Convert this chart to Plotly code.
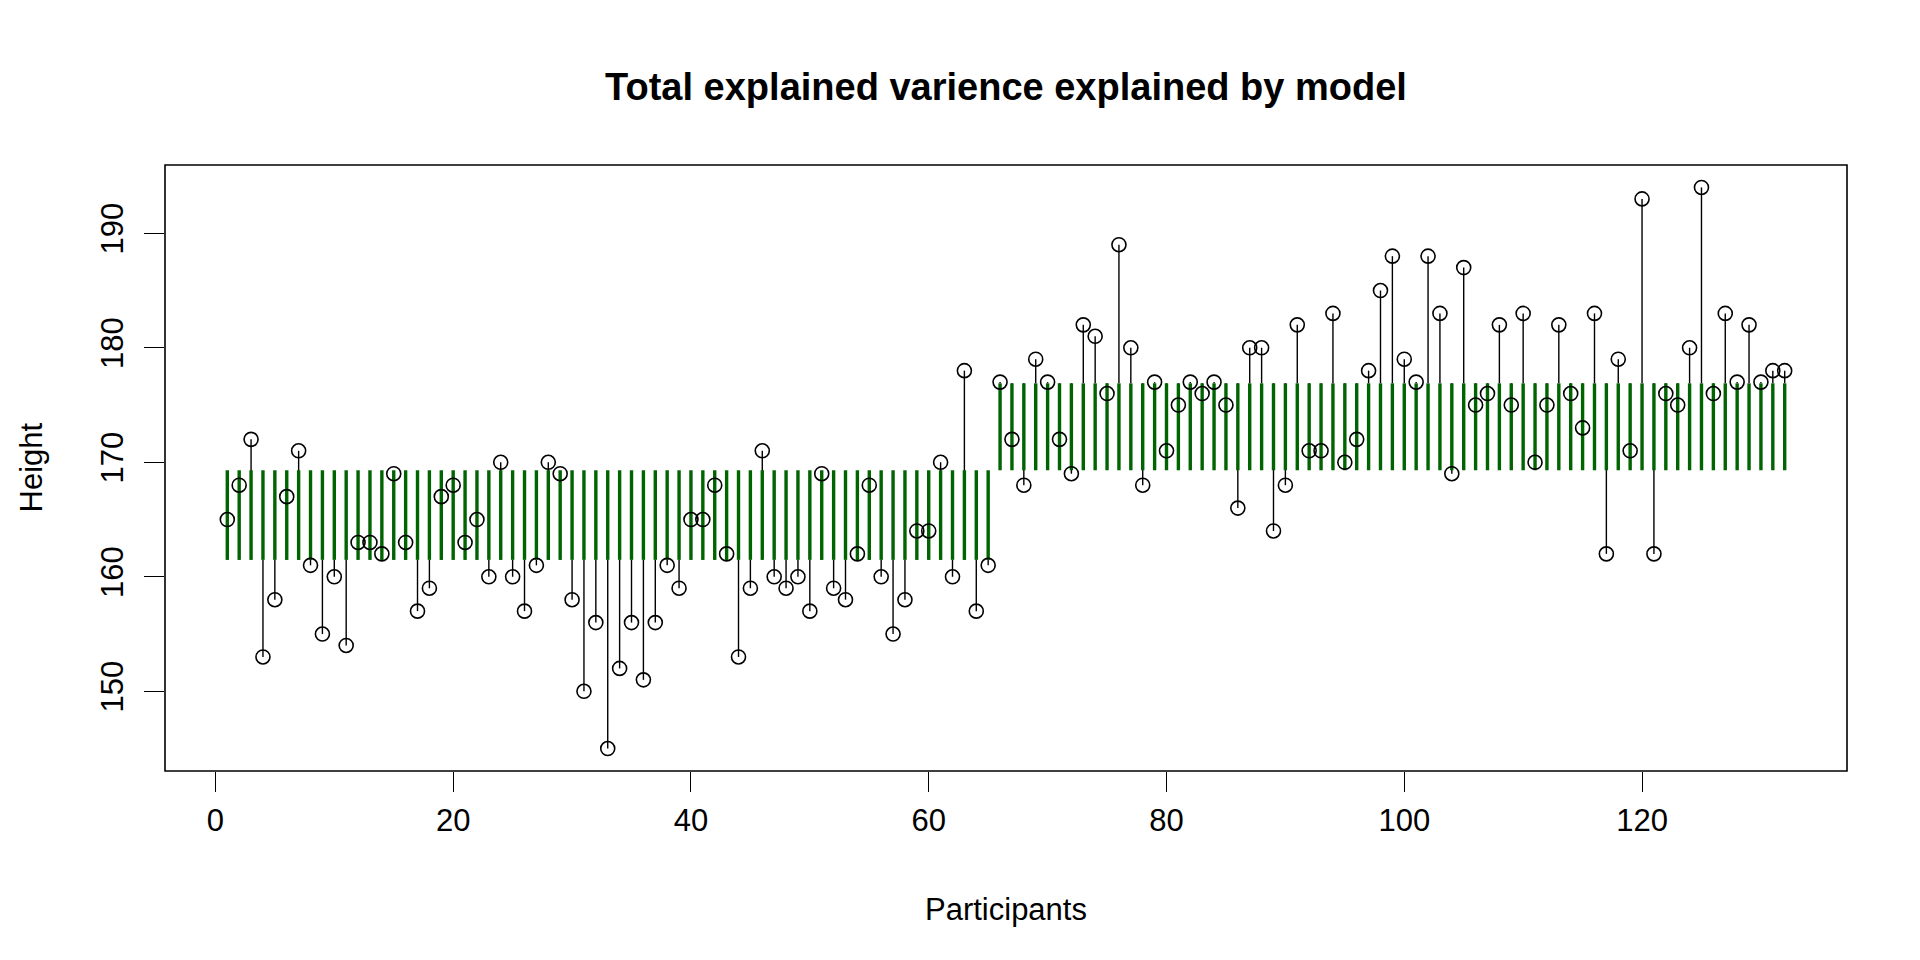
import numpy as np
import plotly.graph_objects as go

# ---- data ----
participants = list(range(1, 133))
group_sizes = [65, 67]
heights = [
    165, 168, 172, 153, 158, 167, 171, 161, 155, 160,
    154, 163, 163, 162, 169, 163, 157, 159, 167, 168,
    163, 165, 160, 170, 160, 157, 161, 170, 169, 158,
    150, 156, 145, 152, 156, 151, 156, 161, 159, 165,
    165, 168, 162, 153, 159, 171, 160, 159, 160, 157,
    169, 159, 158, 162, 168, 160, 155, 158, 164, 164,
    170, 160, 178, 157, 161,
    177, 172, 168, 179, 177, 172, 169, 182, 181, 176,
    189, 180, 168, 177, 171, 175, 177, 176, 177, 175,
    166, 180, 180, 164, 168, 182, 171, 171, 183, 170,
    172, 178, 185, 188, 179, 177, 188, 183, 169, 187,
    175, 176, 182, 175, 183, 170, 175, 182, 176, 173,
    183, 162, 179, 171, 193, 162, 176, 175, 180, 194,
    176, 183, 177, 182, 177, 178, 178,
]
x_ticks = [0, 20, 40, 60, 80, 100, 120]
y_ticks = [150, 160, 170, 180, 190]
title_text = "Total explained varience explained by model"
x_title = "Participants"
y_title = "Height"

h = np.array(heights, dtype=float)
grand_mean = h.mean()
starts = np.cumsum([0] + group_sizes[:-1])
group_mean = np.concatenate([np.full(n, h[s:s + n].mean()) for s, n in zip(starts, group_sizes)])

# black segments: value -> group mean
bx, by = [], []
for xi, yi, gi in zip(participants, h, group_mean):
    bx += [xi, xi, None]
    by += [yi, gi, None]
# green segments: group mean -> grand mean
gx, gy = [], []
for xi, gi in zip(participants, group_mean):
    gx += [xi, xi, None]
    gy += [gi, grand_mean, None]

font = "Liberation Sans, Arial, Helvetica, sans-serif"
fig = go.Figure()
fig.add_trace(go.Scatter(x=bx, y=by, mode="lines", line=dict(color="black", width=1.4),
                         hoverinfo="skip", showlegend=False))
fig.add_trace(go.Scatter(x=gx, y=gy, mode="lines", line=dict(color="#006400", width=3.4),
                         hoverinfo="skip", showlegend=False))
fig.add_trace(go.Scatter(x=participants, y=heights, mode="markers",
                         marker=dict(symbol="circle-open", size=14, color="black",
                                     line=dict(color="black", width=1.6)),
                         showlegend=False))

fig.add_hline(y=grand_mean, line=dict(color="black", width=1.4))

xmin, xmax = 1, 132
xpad = (xmax - xmin) * 0.04
ymin, ymax = min(heights), max(heights)
ypad = (ymax - ymin) * 0.04

fig.update_layout(
    width=1920, height=960,
    margin=dict(l=157, r=81, t=157, b=197),
    paper_bgcolor="white", plot_bgcolor="white",
    font=dict(family=font, color="black", size=31),
    title=dict(text="<b>" + title_text + "</b>", x=0.5, xanchor="center", xref="paper",
               y=1 - 79 / 960, yanchor="middle", yref="container",
               font=dict(size=38, family=font, color="black")),
    xaxis=dict(range=[xmin - xpad, xmax + xpad], tickmode="array", tickvals=x_ticks,
               ticks="outside", ticklen=20, tickwidth=1.4, tickcolor="black",
               showgrid=False, zeroline=False, showline=False,
               tickfont=dict(size=31, family=font), ticklabelstandoff=2),
    yaxis=dict(range=[ymin - ypad, ymax + ypad], tickmode="array", tickvals=y_ticks,
               ticks="outside", ticklen=20, tickwidth=1.4, tickcolor="black",
               showgrid=False, zeroline=False, showline=False, tickangle=-90,
               tickfont=dict(size=31, family=font), ticklabelstandoff=9),
    shapes=[dict(type="rect", xref="paper", yref="paper", x0=0, x1=1, y0=0, y1=1,
                 line=dict(color="black", width=1.6), fillcolor="rgba(0,0,0,0)", layer="above")],
    annotations=[
        dict(text=x_title, xref="paper", yref="paper", x=0.5, y=-(901 - 763) / 606,
             xanchor="center", yanchor="middle", showarrow=False, font=dict(size=31, family=font)),
        dict(text=y_title, xref="paper", yref="paper", x=(22.5 - 157) / 1682, y=0.5,
             xanchor="center", yanchor="middle", textangle=-90, showarrow=False,
             font=dict(size=31, family=font)),
    ],
)

fig.write_html("out.html")
